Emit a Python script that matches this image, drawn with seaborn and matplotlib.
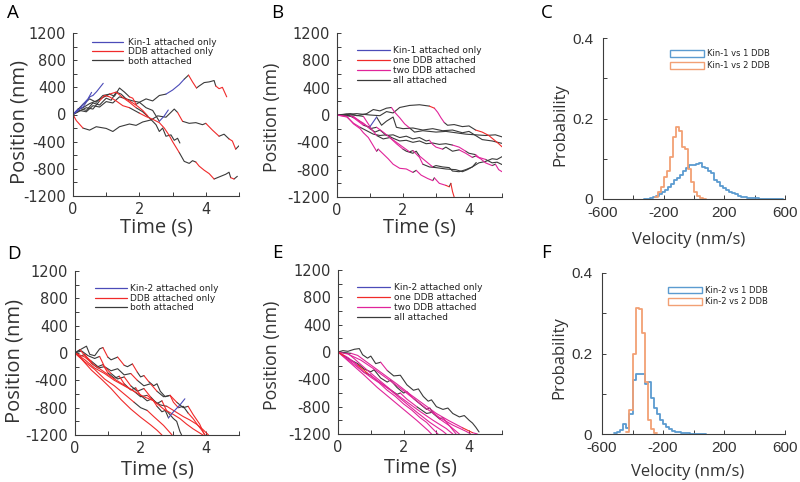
import numpy as np
import pandas as pd
import matplotlib
matplotlib.use("Agg")
import matplotlib.pyplot as plt
import seaborn as sns
from matplotlib.lines import Line2D
from matplotlib.patches import Patch

# ---------------- data ----------------
# trajectories: list of (time s, position nm); state string: char i = state of segment ending at point i
# K = kinesin only (blue), D = one DDB (red), M = two DDB (magenta), B = both/all attached (black)
A1 = [(0,0),(0.2,60),(0.4,40),(0.6,130),(0.8,110),(1.0,190),(1.2,170),(1.4,260),(1.6,230),(1.8,200),(2.0,180),(2.2,230),(2.4,200),(2.6,280),(2.8,300),(3.0,360),(3.2,440),(3.35,520),(3.48,580),(3.6,480),(3.72,390),(3.8,420),(3.95,470),(4.1,480),(4.25,500),(4.3,420),(4.4,380),(4.5,400),(4.63,260)]
A1_s = "BBBBBBBBBBBBBBBKKKBDDBBBBBDDD"
A2 = [(0,0),(0.15,80),(0.3,100),(0.5,160),(0.7,200),(0.9,250),(1.1,300),(1.25,270),(1.4,390),(1.55,330),(1.7,260),(1.8,240),(1.9,150),(2.0,180),(2.2,100),(2.4,60),(2.6,-100),(2.75,-20),(2.87,66)]
A2_s = "BKBBBBBBBBBDDBBBBKK"
A3 = [(0,0),(0.1,-90),(0.3,-200),(0.5,-230),(0.7,-180),(1.0,-205),(1.2,-250),(1.4,-180),(1.7,-140),(1.9,-160),(2.1,-110),(2.35,-80),(2.55,-20),(2.8,-40),(3.05,80),(3.15,30),(3.3,-100),(3.5,-130),(3.7,-120),(3.9,-150),(4.0,-130),(4.2,-230),(4.4,-320),(4.55,-290),(4.7,-360),(4.8,-390),(4.9,-510),(5.0,-460)]
A3_s = "BDDBBBBBBBBBBBBBDBBBBDDBBDDB"
A4 = [(0,0),(0.2,50),(0.4,100),(0.6,80),(0.8,200),(0.95,280),(1.1,260),(1.3,200),(1.5,130),(1.7,100),(1.85,60),(2.0,20),(2.2,-30),(2.4,-70),(2.6,-120),(2.75,-200),(2.9,-310),(3.0,-400),(3.1,-480),(3.2,-560),(3.35,-690),(3.5,-720),(3.6,-680),(3.7,-700),(3.8,-760),(3.95,-820),(4.1,-870),(4.25,-950),(4.35,-930),(4.5,-900),(4.6,-880),(4.7,-850),(4.75,-930),(4.85,-950),(4.95,-910)]
A4_s = "BBBBBDDDDDBBDDDDDDDDBBBBDDDDBBBBBDB"
A5 = [(0,0),(0.3,150),(0.5,230),(0.7,180),(0.9,280),(1.1,300),(1.3,330),(1.5,250),(1.7,180),(1.9,100),(2.1,40),(2.3,-50),(2.5,-150),(2.6,-250),(2.7,-200),(2.8,-320),(2.95,-300),(3.05,-380),(3.15,-350),(3.22,-420)]
A5_s = "BBBBBBDDDDBBBBBBBBBB"
A6 = [(0,0),(0.15,60),(0.31,115),(0.51,262),(0.6,280),(0.71,336),(0.91,459)]
A6_s = "KKKKKKK"
A7 = [(0,0),(0.15,60),(0.3,150),(0.45,230),(0.56,326)]
A7_s = "KKKKK"
A8 = [(0,0),(0.2,90),(0.4,60),(0.6,170),(0.8,140),(1.0,240),(1.15,210),(1.3,330),(1.45,300),(1.6,230),(1.8,170),(1.95,120),(2.1,60),(2.25,-20)]
A8_s = "BBBBBBBBBBDDDD"

B1 = [(0,0),(0.3,-20),(0.5,-130),(0.7,-200),(0.8,-260),(0.95,-330),(1.1,-450),(1.2,-530),(1.25,-500),(1.4,-570),(1.55,-640),(1.7,-720),(1.9,-780),(2.1,-790),(2.3,-840),(2.4,-810),(2.55,-880),(2.75,-930),(2.9,-960),(2.95,-920),(3.1,-1000),(3.3,-1030),(3.4,-1050),(3.45,-1000),(3.5,-1120),(3.55,-1200)]
B1_s = "BMMMMMMMBMMMMMMBMMMBMMDBDD"
B2 = [(0,0),(0.4,-10),(0.6,-60),(0.8,-120),(1.0,-200),(1.15,-250),(1.3,-220),(1.5,-300),(1.7,-290),(1.9,-330),(2.1,-310),(2.3,-350),(2.5,-330),(2.7,-380),(2.8,-370),(2.9,-430),(3.0,-470),(3.2,-500),(3.3,-470),(3.5,-530),(3.7,-510),(3.9,-560),(4.1,-620),(4.2,-600),(4.35,-640),(4.5,-700),(4.7,-740),(4.8,-720),(4.9,-800),(5.0,-830)]
B2_s = "BBMMMBBBBBBBBBBMMMBBBMMBMMMBMM"
B3 = [(0,0),(0.5,-20),(0.7,-100),(0.9,-160),(1.0,-200),(1.2,-180),(1.4,-250),(1.6,-330),(1.8,-420),(2.0,-500),(2.1,-530),(2.3,-560),(2.4,-530),(2.5,-600),(2.7,-680),(2.9,-760),(3.0,-740),(3.2,-760),(3.4,-770),(3.5,-820),(3.7,-830),(3.9,-800),(4.1,-760),(4.3,-700),(4.5,-680),(4.7,-640),(4.85,-650),(5.0,-610)]
B3_s = "BBMMBBMMMMBBBBMMBBBBBBBBBBBB"
B4 = [(0,0),(0.3,10),(0.5,-40),(0.8,-150),(1.0,-180),(1.2,-300),(1.4,-350),(1.6,-330),(1.8,-400),(2.0,-470),(2.2,-540),(2.3,-520),(2.5,-620),(2.6,-720),(2.8,-760),(3.0,-770),(3.3,-790),(3.6,-800),(3.8,-830),(3.95,-800),(4.1,-760),(4.22,-695)]
B4_s = "BBBMBMBBMMMBMMBBBBBBBB"
B5 = [(0,0),(0.4,20),(0.6,-10),(0.9,20),(1.1,80),(1.3,60),(1.5,100),(1.65,110),(1.75,40),(1.9,-40),(2.05,-130),(2.2,-190),(2.35,-250),(2.6,-230),(2.8,-240),(3.0,-250),(3.3,-240),(3.6,-260),(3.9,-280),(4.2,-290),(4.5,-300),(4.8,-290),(5.0,-320)]
B5_s = "BBBBBBBBMMMMBBBBBBBBBBB"
B6 = [(0,0),(0.5,0),(0.8,-20),(1.0,-170),(1.2,-30),(1.35,-150),(1.5,-90),(1.6,-60),(1.7,-30),(1.8,-180),(2.0,-200),(2.3,-190),(2.6,-220),(2.9,-200),(3.2,-230),(3.5,-220),(3.8,-260),(4.0,-240),(4.2,-300),(4.4,-360),(4.7,-380),(5.0,-415)]
B6_s = "BBBMKBBBBBBBBBBBBBBBBB"
B7 = [(0,0),(0.6,20),(1.0,0),(1.3,-10),(1.5,50),(1.7,30),(1.9,110),(2.2,140),(2.5,150),(2.8,130),(2.95,100),(3.05,40),(3.15,-40),(3.25,-110),(3.35,-150),(3.55,-140),(3.8,-170),(4.0,-160),(4.2,-220),(4.4,-250),(4.6,-300),(4.75,-360),(4.9,-420),(5.0,-465)]
B7_s = "BBBBBBBBBBDMMMBBBBBDDDDD"
B8 = [(0,0),(0.3,-30),(0.5,-120),(0.7,-180),(0.9,-230),(1.1,-280),(1.3,-300),(1.5,-290),(1.7,-340),(1.9,-380),(2.1,-370),(2.3,-400),(2.5,-380),(2.7,-420),(2.9,-410),(3.1,-430),(3.3,-420),(3.5,-440),(3.7,-470),(3.9,-530),(4.0,-560),(4.2,-580),(4.3,-620),(4.5,-650),(4.7,-700),(4.85,-690),(5.0,-725)]
B8_s = "BMMMBBBBBBBBBBBBBBMMBBMMBBB"

D1 = [(0,0),(0.15,50),(0.3,-40),(0.5,-120),(0.7,-200),(0.85,-170),(1.0,-290),(1.2,-370),(1.35,-340),(1.5,-450),(1.7,-540),(1.85,-510),(2.0,-620),(2.2,-700),(2.35,-670),(2.5,-780),(2.65,-860),(2.75,-840),(2.85,-950),(3.0,-860),(3.2,-760),(3.35,-670)]
D1_s = "BBDDBBDBBDBBDBBDBBBKKK"
D2 = [(0,0),(0.2,60),(0.35,100),(0.45,-20),(0.6,-40),(0.75,60),(0.85,80),(1.0,-60),(1.1,-100),(1.3,-60),(1.5,-180),(1.6,-200),(1.75,-160),(1.9,-280),(2.0,-350),(2.1,-330),(2.25,-420),(2.4,-480),(2.5,-450),(2.6,-560),(2.75,-640),(2.9,-620),(3.0,-720),(3.15,-800),(3.3,-780),(3.45,-880),(3.6,-960),(3.75,-1060),(3.85,-1120),(3.97,-1200)]
D2_s = "BBBBBBBDBBDBBDBBDBBBBBDDBBDDDD"
D3 = [(0,0),(0.3,-100),(0.6,-220),(0.9,-300),(1.2,-400),(1.5,-480),(1.8,-560),(2.1,-640),(2.4,-700),(2.6,-760),(2.8,-780),(3.0,-840),(3.3,-930),(3.5,-980),(3.7,-1040),(3.9,-1120),(4.07,-1200)]
D3_s = "DDDDDDDDDBBDDDDDD"
D4 = [(0,0),(0.2,-90),(0.5,-250),(0.8,-380),(1.1,-520),(1.4,-680),(1.7,-820),(2.0,-940),(2.3,-1050),(2.5,-1130),(2.65,-1200)]
D4_s = "DDDDDDDDDDD"
D5 = [(0,0),(0.3,-130),(0.6,-240),(0.9,-380),(1.2,-480),(1.5,-600),(1.8,-720),(2.0,-800),(2.2,-840),(2.4,-930),(2.7,-1060),(2.96,-1200)]
D5_s = "DDDDDDDBBDDD"
D6 = [(0,0),(0.15,-50),(0.3,-20),(0.5,-150),(0.7,-220),(0.9,-200),(1.1,-300),(1.3,-380),(1.5,-350),(1.7,-480),(1.9,-560),(2.1,-520),(2.3,-640),(2.5,-740),(2.65,-700),(2.8,-850),(3.0,-960),(3.1,-1000),(3.2,-1150),(3.25,-1200)]
D6_s = "BBBDBBDBBDBBDBBDBBBB"
D7 = [(0,0),(0.3,-60),(0.6,-180),(0.9,-280),(1.2,-380),(1.5,-470),(1.8,-560),(2.0,-640),(2.2,-620),(2.4,-700),(2.7,-820),(3.0,-900),(3.2,-960),(3.4,-1040),(3.6,-1110),(3.9,-1200)]
D7_s = "DDDDDDDBBDDDDDDD"
D8 = [(0,0),(0.2,30),(0.4,-40),(0.6,-80),(0.75,-50),(0.9,-200),(1.1,-260),(1.3,-230),(1.5,-320),(1.7,-300),(1.9,-400),(2.1,-480),(2.3,-450),(2.5,-560),(2.7,-640),(2.9,-620),(3.1,-720),(3.3,-800),(3.45,-780),(3.6,-900),(3.8,-1040),(3.95,-1200)]
D8_s = "BBBBBDBBBBDBBDBBDBBDDD"

E1 = [(0,0),(0.15,20),(0.3,10),(0.5,40),(0.65,50),(0.75,-40),(0.9,-90),(1.0,-60),(1.15,-170),(1.3,-150),(1.5,-270),(1.7,-350),(1.9,-340),(2.1,-480),(2.3,-560),(2.45,-540),(2.6,-650),(2.75,-720),(2.85,-700),(3.0,-800),(3.2,-840),(3.35,-820),(3.5,-900),(3.7,-950),(3.85,-930),(4.0,-1000),(4.1,-1040),(4.2,-1100),(4.3,-1170)]
E1_s = "BBBBBBBBBBMBBBBBBBBBBBBBBBBBB"
E2 = [(0,0),(0.25,-90),(0.5,-160),(0.75,-280),(1.0,-370),(1.25,-450),(1.5,-560),(1.75,-650),(2.0,-760),(2.25,-850),(2.5,-960),(2.7,-1030),(2.9,-1130),(3.05,-1200)]
E2_s = "MMMMMMMMMMMMMM"
E3 = [(0,0),(0.4,-150),(0.8,-300),(1.0,-340),(1.2,-420),(1.6,-560),(2.0,-720),(2.4,-880),(2.8,-1030),(3.2,-1160),(3.3,-1200)]
E3_s = "MMMBMMMMMMM"
E4 = [(0,0),(0.3,-20),(0.5,-100),(0.9,-270),(1.3,-430),(1.7,-590),(2.1,-730),(2.5,-870),(2.9,-1000),(3.3,-1120),(3.5,-1200)]
E4_s = "BBMMMMMMMMM"
E5 = [(0,0),(0.3,-30),(0.7,-120),(1.1,-250),(1.5,-390),(1.9,-530),(2.3,-680),(2.7,-830),(3.1,-960),(3.5,-1070),(3.9,-1160),(4.05,-1200)]
E5_s = "MMMMMMMMMMMM"
E6 = [(0,0),(0.4,-20),(0.6,-50),(1.0,-190),(1.4,-330),(1.8,-470),(2.2,-620),(2.6,-760),(3.0,-900),(3.4,-1010),(3.8,-1110),(4.1,-1180),(4.25,-1200)]
E6_s = "BBMMMMMMMMMDM"
E7 = [(0,0),(0.2,-60),(0.4,-120),(0.6,-170),(0.8,-250),(1.0,-290),(1.1,-260),(1.3,-380),(1.5,-440),(1.6,-410),(1.8,-520),(2.0,-600),(2.1,-580),(2.3,-680),(2.5,-760),(2.7,-840),(2.8,-820),(2.9,-900),(3.1,-980),(3.2,-960),(3.4,-1080),(3.6,-1200)]
E7_s = "BDBBBBBBBBBBBMBBBBBBMM"
E8 = [(0,0),(0.4,-170),(0.8,-340),(1.2,-520),(1.6,-680),(2.0,-840),(2.4,-1000),(2.75,-1150),(2.85,-1200)]
E8_s = "MMMMMMMMM"
E9 = [(0,0),(0.3,-80),(0.6,-190),(0.9,-310),(1.2,-420),(1.5,-520),(1.8,-620),(1.9,-600),(2.1,-690),(2.4,-800),(2.7,-900),(2.9,-880),(3.1,-980),(3.4,-1080),(3.7,-1200)]
E9_s = "BMMDMMBBMMBBMMM"

# histograms (probability per 20 nm/s bin, starting at the given left edge)
BIN_W = 20
C_blue_left = -330
C_blue = [0.001,0.001,0.002,0.004,0.007,0.012,0.018,0.022,0.029,0.037,0.046,0.051,0.06,0.07,0.076,0.085,0.085,0.087,0.09,0.079,0.076,0.07,0.064,0.047,0.043,0.032,0.027,0.022,0.018,0.014,0.012,0.008,0.006,0.004,0.003,0.002,0.002,0.0015,0.001,0.001,0.0005,0.001,0.0005,0.0005,0.0,0.0005]
C_orange_left = -260
C_orange = [0.004,0.018,0.03,0.055,0.07,0.105,0.155,0.178,0.17,0.13,0.125,0.075,0.042,0.018,0.008,0.003,0.001]
F_blue_left = -520
F_blue = [0.002,0.004,0.01,0.025,0.015,0.05,0.135,0.148,0.148,0.148,0.125,0.128,0.09,0.065,0.05,0.035,0.026,0.018,0.012,0.008,0.006,0.004,0.003,0.002,0.002,0.001,0.001,0.001,0.0005,0.0005]
F_orange_left = -440
F_orange = [0.005,0.06,0.2,0.312,0.31,0.25,0.13,0.035,0.012,0.002]

TIME_TICKS = [0, 2, 4]
TIME_MINOR = [1, 3, 5]
POS_TICKS = [-1200, -800, -400, 0, 400, 800, 1200]
POS_MINOR = [-1000, -600, -200, 200, 600, 1000]
VEL_TICKS = [-600, -200, 200, 600]
VEL_MINOR = [-400, 0, 400]
PROB_TICKS = [0, 0.2, 0.4]
PROB_MINOR = [0.1, 0.3]
PROB_LABELS = ["0", "0.2", "0.4"]

A_legend = ["Kin-1 attached only", "DDB attached only", "both attached"]
B_legend = ["Kin-1 attached only", "one DDB attached", "two DDB attached", "all attached"]
D_legend = ["Kin-2 attached only", "DDB attached only", "both attached"]
E_legend = ["Kin-2 attached only", "one DDB attached", "two DDB attached", "all attached"]
C_legend = ["Kin-1 vs 1 DDB", "Kin-1 vs 2 DDB"]
F_legend = ["Kin-2 vs 1 DDB", "Kin-2 vs 2 DDB"]

PAL = {"K": "#4b4bb8", "D": "#f02a2a", "M": "#e0249a", "B": "#3a3a3a"}
HBLUE, HORANGE = "#5b9bd0", "#f2a074"

# ---------------- style ----------------
sns.set_theme(style="ticks")
plt.rcParams["font.family"] = ["DejaVu Sans"]
plt.rcParams["axes.unicode_minus"] = False
LABEL_FONT = ["Open Sans", "DejaVu Sans"]
TXT = "#333333"
SPINE = "#3c3c3c"

W, H = 800, 482
fig = plt.figure(figsize=(8, 4.82), dpi=100)
fig.patch.set_facecolor("white")


def rect(x0, y0, x1, y1):
    return [x0 / W, 1 - y1 / H, (x1 - x0) / W, (y1 - y0) / H]


def traj_frame(trajs):
    rows, seg = [], 0
    for pts, states in trajs:
        states = states.ljust(len(pts), states[-1])[:len(pts)]
        cur = None
        for i in range(1, len(pts)):
            s = states[i]
            if s != cur:
                seg += 1
                cur = s
                rows.append((seg, s, pts[i - 1][0], pts[i - 1][1]))
            rows.append((seg, s, pts[i][0], pts[i][1]))
    return pd.DataFrame(rows, columns=["seg", "state", "time", "pos"])


def style_axes(ax, xmaj, xmin, ymaj, ymin, xlab, ylab, tfont, tsize, ypad, xpad):
    for s in ["top", "right"]:
        ax.spines[s].set_visible(False)
    for s in ["left", "bottom"]:
        ax.spines[s].set_color(SPINE)
        ax.spines[s].set_linewidth(0.8)
    ax.set_xticks(xmaj)
    ax.set_xticks(xmin, minor=True)
    ax.set_yticks(ymaj)
    ax.set_yticks(ymin, minor=True)
    ax.set_xticklabels(xlab)
    ax.set_yticklabels(ylab)
    ax.tick_params(which="both", direction="in", length=3, width=0.7, color=SPINE)
    ax.tick_params(axis="y", pad=ypad, labelsize=tsize, labelcolor=TXT)
    ax.tick_params(axis="x", pad=xpad, labelsize=tsize, labelcolor=TXT)
    for lab in ax.get_xticklabels() + ax.get_yticklabels():
        lab.set_family(tfont)
    ax.set_facecolor("white")
    ax.grid(False)


def set_labels(ax, xl, yl, xsize, ysize, xbase_px, xcenter, ybase_px, ycenter, ax_rect_px):
    x0, y0, x1, y1 = ax_rect_px
    ax.set_xlabel(xl, fontsize=xsize, family=LABEL_FONT, color=TXT)
    ax.set_ylabel(yl, fontsize=ysize, family=LABEL_FONT, color=TXT)
    ax.xaxis.label.set_va("baseline")
    ax.yaxis.label.set_va("baseline")
    ax.xaxis.set_label_coords(xcenter, -(xbase_px - y1) / (y1 - y0))
    ax.yaxis.set_label_coords((ybase_px - x0) / (x1 - x0), ycenter)


def line_legend(ax, labels, colors, x_px, top_px, hl, tp, sp):
    handles = [Line2D([], [], color=c, lw=0.9) for c in colors]
    leg = ax.legend(handles, labels, loc="upper left",
                    bbox_to_anchor=(x_px / W, 1 - top_px / H), bbox_transform=fig.transFigure,
                    frameon=False, prop={"family": "DejaVu Sans", "size": 6.5},
                    handlelength=hl, handletextpad=tp, labelspacing=sp,
                    borderpad=0, borderaxespad=0)
    for t in leg.get_texts():
        t.set_color("#222222")


def box_legend(ax, labels, colors, x_px, top_px):
    handles = [Patch(facecolor="none", edgecolor=c, lw=1.0) for c in colors]
    leg = ax.legend(handles, labels, loc="upper left",
                    bbox_to_anchor=(x_px / W, 1 - top_px / H), bbox_transform=fig.transFigure,
                    frameon=False, prop={"family": "DejaVu Sans", "size": 6},
                    handlelength=4.1, handleheight=0.88, handletextpad=0.32,
                    labelspacing=0.32, borderpad=0, borderaxespad=0)
    for t in leg.get_texts():
        t.set_color("#222222")


def traj_panel(px, trajs, order, leg_labels, leg_colors, leg_x, leg_top, hl, tp, sp,
               xbase, ybase, yc, ysize):
    ax = fig.add_axes(rect(*px))
    df = traj_frame(trajs)
    present = set(df["state"])
    sns.lineplot(data=df, x="time", y="pos", hue="state", units="seg", estimator=None,
                 sort=False, palette=PAL, hue_order=[o for o in order if o in present],
                 legend=False, linewidth=0.8, ax=ax)
    ax.set_xlim(0, 5)
    ax.set_ylim(-1200, 1200)
    style_axes(ax, TIME_TICKS, TIME_MINOR, POS_TICKS, POS_MINOR,
               [str(v) for v in TIME_TICKS], [str(v) for v in POS_TICKS],
               "DejaVu Sans", 10.5, 5, 4.5)
    set_labels(ax, "Time (s)", "Position (nm)", 14.5, ysize, xbase, 0.5, ybase, yc, px)
    line_legend(ax, leg_labels, leg_colors, leg_x, leg_top, hl, tp, sp)
    return ax


def hist_panel(px, blue_left, blue, orange_left, orange, leg_labels, leg_x, leg_top,
               xbase, xc, ybase, yc):
    ax = fig.add_axes(rect(*px))
    for left, probs, col in [(blue_left, blue, HBLUE), (orange_left, orange, HORANGE)]:
        edges = [float(left + BIN_W * k) for k in range(len(probs) + 1)]
        hdf = pd.DataFrame({"velocity": [e + BIN_W / 2 for e in edges[:-1]], "prob": probs})
        sns.histplot(data=hdf, x="velocity", weights="prob", bins=edges, element="step",
                     fill=False, color=col, linewidth=1.3, ax=ax)
    ax.set_xlim(-600, 600)
    ax.set_ylim(0, 0.4)
    style_axes(ax, VEL_TICKS, VEL_MINOR, PROB_TICKS, PROB_MINOR,
               [str(v) for v in VEL_TICKS], PROB_LABELS,
               "Liberation Sans", 11, 7, 5)
    set_labels(ax, "Velocity (nm/s)", "Probability", 12, 12, xbase, xc, ybase, yc, px)
    box_legend(ax, leg_labels, [HBLUE, HORANGE], leg_x, leg_top)
    return ax


# A
traj_panel((73, 33, 239, 196),
           [(A3, A3_s), (A4, A4_s), (A5, A5_s), (A8, A8_s), (A1, A1_s), (A2, A2_s), (A6, A6_s), (A7, A7_s)],
           ["B", "D", "K"], A_legend, [PAL["K"], PAL["D"], PAL["B"]], 92, 37.7, 3.43, 0.55, 0.05,
           233, 24, 0.454, 14.5)
# B
traj_panel((337, 33, 502, 197),
           [(B1, B1_s), (B2, B2_s), (B3, B3_s), (B4, B4_s), (B5, B5_s), (B6, B6_s), (B7, B7_s), (B8, B8_s)],
           ["B", "M", "D", "K"], B_legend, [PAL["K"], PAL["D"], PAL["M"], PAL["B"]], 357, 46.4, 3.7, 0.3, 0.1,
           233, 276.5, 0.488, 12.8)
# C
hist_panel((603, 38, 785, 199), C_blue_left, C_blue, C_orange_left, C_orange, C_legend, 670, 49.4,
           244, 0.47, 564.5, 0.46)
# D
traj_panel((75, 271, 239, 435),
           [(D1, D1_s), (D2, D2_s), (D3, D3_s), (D4, D4_s), (D5, D5_s), (D6, D6_s), (D7, D7_s), (D8, D8_s)],
           ["B", "D", "K"], D_legend, [PAL["K"], PAL["D"], PAL["B"]], 95, 284, 3.5, 0.37, 0.08,
           475, 19.5, 0.451, 14.5)
# E
traj_panel((338, 270, 502, 434),
           [(E1, E1_s), (E2, E2_s), (E3, E3_s), (E4, E4_s), (E5, E5_s), (E6, E6_s), (E7, E7_s), (E8, E8_s), (E9, E9_s)],
           ["B", "M", "D", "K"], E_legend, [PAL["K"], PAL["D"], PAL["M"], PAL["B"]], 357, 283, 3.7, 0.35, 0.12,
           473, 276.5, 0.479, 12.8)
# F
hist_panel((602, 273, 785, 434), F_blue_left, F_blue, F_orange_left, F_orange, F_legend, 668, 285.8,
           476, 0.47, 563.5, 0.475)

# panel letters
for letter, x, y in [("A", 7, 18), ("B", 271, 18), ("C", 541, 18),
                     ("D", 7, 259), ("E", 272, 258), ("F", 541, 258)]:
    fig.text(x / W, 1 - y / H, letter, fontsize=13.5, family=LABEL_FONT,
             ha="left", va="baseline", color="black")

fig.savefig("out.png", dpi=100, facecolor="white")
